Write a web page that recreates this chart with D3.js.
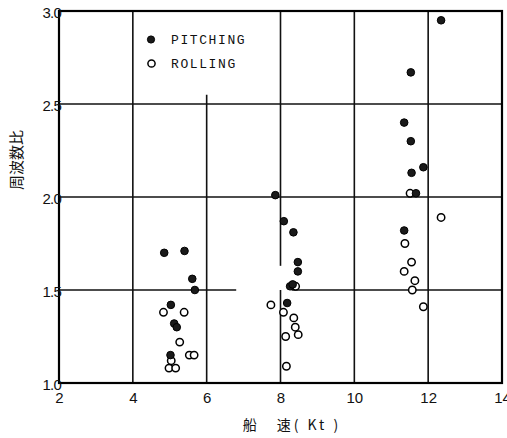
<!DOCTYPE html>
<html><head><meta charset="utf-8">
<script src="https://cdn.jsdelivr.net/npm/d3@7"></script>
<style>body{margin:0;background:#fff}</style>
</head><body>
<script>
const xTicks = [2,4,6,8,10,12,14];
const yTicks = [1.0,1.5,2.0,2.5,3.0];
const yTickLabels = ["1.0","1.5","2.0","2.5","3.0"];
const xLabel = "船\u3000速( Kt )";
const yLabel = "周波数比";
const legendLabels = ["PITCHING","ROLLING"];

const pitchX = [4.85,5.40,5.61,5.68,5.03,5.12,5.19,5.02, 7.86,8.09,8.35,8.47,8.47,8.26,8.33,8.18, 12.35,11.53,11.35,11.53,11.87,11.55,11.67,11.35];
const pitchY = [1.70,1.71,1.56,1.50,1.42,1.32,1.30,1.15, 2.01,1.87,1.81,1.65,1.60,1.52,1.53,1.43, 2.95,2.67,2.40,2.30,2.16,2.13,2.02,1.82];

const rollX = [4.83,5.39,5.27,5.53,5.66,5.04,4.98,5.16, 7.74,8.08,8.36,8.40,8.48,8.14,8.16,8.41, 11.51,12.35,11.37,11.55,11.35,11.64,11.57,11.87];
const rollY = [1.38,1.38,1.22,1.15,1.15,1.12,1.08,1.08, 1.42,1.38,1.35,1.30,1.26,1.25,1.09,1.52, 2.02,1.89,1.75,1.65,1.60,1.55,1.50,1.41];

// grid segments (data units): vertical [x, y0, y1], horizontal [y, x0, x1]
const vGrid = [[4,1,3],[6,1,2.55],[8,1.5,1],[8,1.63,3],[10,1,3],[12,1,3]];
const hGrid = [[1.5,2,6.8],[1.5,8.3,14],[2.0,2,14],[2.5,2,14]];

const W = 507, H = 438;
const svg = d3.select("body").append("svg").attr("width",W).attr("height",H)
  .style("font-family","'Liberation Sans', Arial, sans-serif");

const x = d3.scaleLinear().domain([2,14]).range([59,502]);
const y = d3.scaleLinear().domain([1,3]).range([383,11]);

const g = svg.append("g");
g.selectAll("line.vg").data(vGrid).join("line").attr("class","vg")
  .attr("x1",d=>x(d[0])).attr("x2",d=>x(d[0])).attr("y1",d=>y(d[1])).attr("y2",d=>y(d[2]))
  .attr("stroke","#111").attr("stroke-width",1.6);
g.selectAll("line.hg").data(hGrid).join("line").attr("class","hg")
  .attr("y1",d=>y(d[0])).attr("y2",d=>y(d[0])).attr("x1",d=>x(d[1])).attr("x2",d=>x(d[2]))
  .attr("stroke","#111").attr("stroke-width",1.6);

svg.append("rect").attr("x",x(2)).attr("y",y(3)).attr("width",x(14)-x(2)).attr("height",y(1)-y(3))
  .attr("fill","none").attr("stroke","#000").attr("stroke-width",2.2);

// axes (labels only)
const xAxis = d3.axisBottom(x).tickValues(xTicks).tickSize(0).tickPadding(9).tickFormat(d3.format("d"));
const xa = svg.append("g").attr("transform",`translate(0,${y(1)})`).call(xAxis);
xa.select(".domain").remove();
xa.selectAll("text").attr("font-size",15).attr("fill","#111").attr("font-family","'Liberation Sans', Arial, sans-serif");

const yAxis = d3.axisLeft(y).tickValues(yTicks).tickSize(0).tickPadding(-2).tickFormat((d,i)=>yTickLabels[i]);
const ya = svg.append("g").attr("transform",`translate(${x(2)},0)`).call(yAxis);
ya.select(".domain").remove();
ya.selectAll("text").attr("font-size",15).attr("fill","#111").attr("dy","0.45em").attr("letter-spacing",-0.8)
  .attr("font-family","'Liberation Sans', Arial, sans-serif");

// points
const pData = pitchX.map((v,i)=>({x:v,y:pitchY[i]}));
const rData = rollX.map((v,i)=>({x:v,y:rollY[i]}));
svg.append("g").selectAll("circle").data(rData).join("circle")
  .attr("cx",d=>x(d.x)).attr("cy",d=>y(d.y)).attr("r",3.7)
  .attr("fill","#fff").attr("stroke","#000").attr("stroke-width",1.5);
svg.append("g").selectAll("circle").data(pData).join("circle")
  .attr("cx",d=>x(d.x)).attr("cy",d=>y(d.y)).attr("r",3.8)
  .attr("fill","#1a1a1a").attr("stroke","#000").attr("stroke-width",1);

// legend
const lg = svg.append("g");
lg.append("circle").attr("cx",151).attr("cy",39.5).attr("r",3.6).attr("fill","#1a1a1a").attr("stroke","#000");
lg.append("circle").attr("cx",151.5).attr("cy",63.5).attr("r",3.6).attr("fill","#fff").attr("stroke","#000").attr("stroke-width",1.5);
lg.selectAll("text").data(legendLabels).join("text")
  .attr("x",171).attr("y",(d,i)=>44+i*24).text(d=>d)
  .attr("font-family","'Liberation Mono', 'DejaVu Sans Mono', monospace").attr("font-size",13)
  .attr("letter-spacing",1.6).attr("fill","#111");

// axis titles
svg.append("text").attr("x",292).attr("y",430).attr("text-anchor","middle")
  .attr("font-family","'Noto Sans CJK JP', sans-serif").attr("font-size",14).attr("letter-spacing",3)
  .attr("fill","#111").text(xLabel);
svg.append("text").attr("transform","translate(22,160) rotate(-90)").attr("text-anchor","middle")
  .attr("font-family","'Noto Sans CJK JP', sans-serif").attr("font-size",15).attr("fill","#111").text(yLabel);
</script>
</body></html>
